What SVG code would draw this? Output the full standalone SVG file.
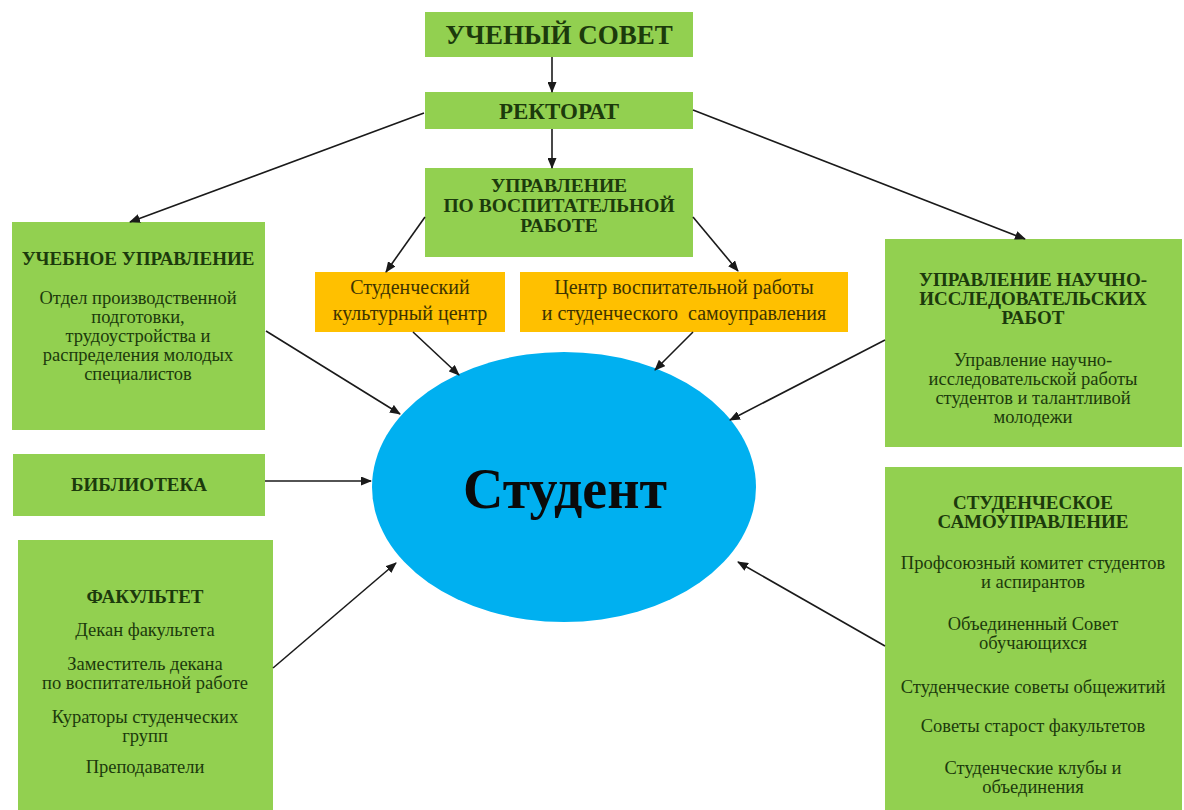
<svg xmlns="http://www.w3.org/2000/svg" width="1184" height="810" viewBox="0 0 1184 810">
<defs>
<marker id="ah" markerUnits="userSpaceOnUse" markerWidth="11" markerHeight="9" refX="10" refY="4.5" orient="auto">
<path d="M0,0 L11,4.5 L0,9 z" fill="#1a1a1a"/>
</marker>
<style>
.g{fill:#92D050}
.o{fill:#FFC000}
.t{font-family:"Liberation Serif","Times New Roman",serif;text-anchor:middle;fill:#1c3a0c}
.b{font-weight:bold}
.ot{font-family:"Liberation Serif","Times New Roman",serif;text-anchor:middle;fill:#3d3300;font-size:20px}
.h{font-size:19px;font-weight:bold}
.p{font-size:18.5px}
.c{fill:none;stroke:#1a1a1a;stroke-width:1.6;marker-end:url(#ah)}
</style>
</defs>
<rect width="1184" height="810" fill="#ffffff"/>

<g id="uchenyi-sovet">
<rect class="g" x="425" y="12" width="268" height="45"/>
<text class="t b" x="559" y="44" font-size="27">УЧЕНЫЙ СОВЕТ</text>
</g>

<g id="rektorat">
<rect class="g" x="425" y="92" width="268" height="37"/>
<text class="t b" x="559" y="119" font-size="23">РЕКТОРАТ</text>
</g>

<g id="upr-vospit">
<rect class="g" x="425" y="168" width="268" height="89"/>
<text class="t b" x="559" y="192" font-size="19.5">УПРАВЛЕНИЕ</text>
<text class="t b" x="559" y="212" font-size="19.5">ПО ВОСПИТАТЕЛЬНОЙ</text>
<text class="t b" x="559" y="232" font-size="19.5">РАБОТЕ</text>
</g>

<g id="kult-centr">
<rect class="o" x="315" y="272" width="190" height="60"/>
<text class="ot" x="410" y="294">Студенческий</text>
<text class="ot" x="410" y="320">культурный центр</text>
</g>

<g id="centr-vospit">
<rect class="o" x="520" y="272" width="328" height="60"/>
<text class="ot" x="684" y="294">Центр воспитательной работы</text>
<text class="ot" x="684" y="320" xml:space="preserve">и студенческого  самоуправления</text>
</g>

<g id="uchebnoe">
<rect class="g" x="12" y="222" width="253" height="208"/>
<text class="t h" x="138" y="265">УЧЕБНОЕ УПРАВЛЕНИЕ</text>
<text class="t p" x="138" y="304">Отдел производственной</text>
<text class="t p" x="138" y="323">подготовки,</text>
<text class="t p" x="138" y="342">трудоустройства и</text>
<text class="t p" x="138" y="361">распределения молодых</text>
<text class="t p" x="138" y="380">специалистов</text>
</g>

<g id="biblioteka">
<rect class="g" x="13" y="454" width="252" height="62"/>
<text class="t h" x="139" y="491">БИБЛИОТЕКА</text>
</g>

<g id="fakultet">
<rect class="g" x="18" y="540" width="255" height="270"/>
<text class="t h" x="145" y="603">ФАКУЛЬТЕТ</text>
<text class="t p" x="145" y="636">Декан факультета</text>
<text class="t p" x="145" y="670">Заместитель декана</text>
<text class="t p" x="145" y="689">по воспитательной работе</text>
<text class="t p" x="145" y="723">Кураторы студенческих</text>
<text class="t p" x="145" y="742">групп</text>
<text class="t p" x="145" y="773">Преподаватели</text>
</g>

<g id="upr-nauch">
<rect class="g" x="885" y="239" width="297" height="208"/>
<text class="t h" x="1033" y="286">УПРАВЛЕНИЕ НАУЧНО-</text>
<text class="t h" x="1033" y="305">ИССЛЕДОВАТЕЛЬСКИХ</text>
<text class="t h" x="1033" y="324">РАБОТ</text>
<text class="t p" x="1033" y="366">Управление научно-</text>
<text class="t p" x="1033" y="385">исследовательской работы</text>
<text class="t p" x="1033" y="404">студентов и талантливой</text>
<text class="t p" x="1033" y="423">молодежи</text>
</g>

<g id="stud-samoupr">
<rect class="g" x="885" y="467" width="297" height="343"/>
<text class="t h" x="1033" y="509">СТУДЕНЧЕСКОЕ</text>
<text class="t h" x="1033" y="528">САМОУПРАВЛЕНИЕ</text>
<text class="t p" x="1033" y="569">Профсоюзный комитет студентов</text>
<text class="t p" x="1033" y="588">и аспирантов</text>
<text class="t p" x="1033" y="630">Объединенный Совет</text>
<text class="t p" x="1033" y="649">обучающихся</text>
<text class="t p" x="1033" y="693">Студенческие советы общежитий</text>
<text class="t p" x="1033" y="732">Советы старост факультетов</text>
<text class="t p" x="1033" y="774">Студенческие клубы и</text>
<text class="t p" x="1033" y="793">объединения</text>
</g>

<g id="student">
<ellipse cx="564" cy="487" rx="192" ry="135" fill="#00B0F0"/>
<text x="565" y="508" font-family="Liberation Serif, Times New Roman, serif" font-weight="bold" font-size="56" text-anchor="middle" fill="#0a0a0a">Студент</text>
</g>

<g id="connectors">
<line class="c" x1="552" y1="57" x2="552" y2="92"/>
<line class="c" x1="552" y1="129" x2="552" y2="168"/>
<line class="c" x1="424" y1="113" x2="130" y2="222"/>
<line class="c" x1="693" y1="110" x2="1025" y2="239"/>
<line class="c" x1="425" y1="217" x2="386" y2="272"/>
<line class="c" x1="693" y1="217" x2="738" y2="271"/>
<line class="c" x1="413" y1="332" x2="459" y2="375"/>
<line class="c" x1="693" y1="332" x2="655" y2="370"/>
<line class="c" x1="266" y1="331" x2="400" y2="414"/>
<line class="c" x1="265" y1="481" x2="371" y2="481"/>
<line class="c" x1="273" y1="668" x2="396" y2="563"/>
<line class="c" x1="885" y1="340" x2="730" y2="420"/>
<line class="c" x1="885" y1="646" x2="738" y2="562"/>
</g>
</svg>
